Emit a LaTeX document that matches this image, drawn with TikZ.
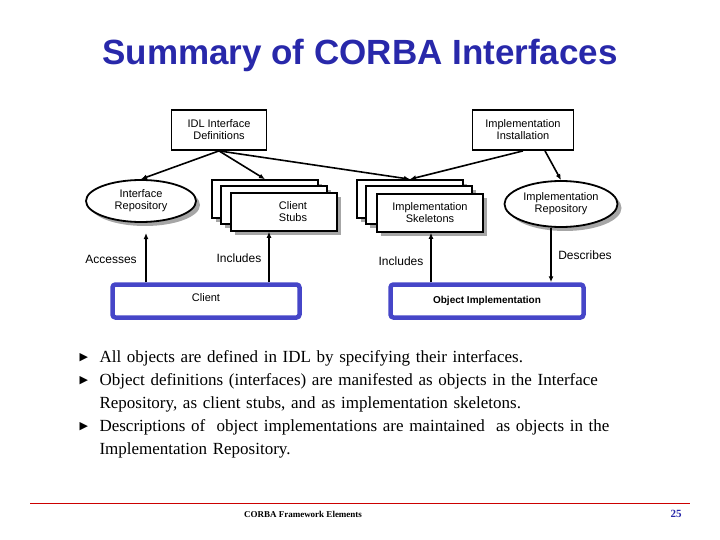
\documentclass[tikz,border=0pt]{standalone}
\usepackage{fontspec}
\setmainfont{Liberation Serif}
\setsansfont{Liberation Sans}
\newfontfamily\symfont{DejaVu Sans}
\usetikzlibrary{positioning, shapes, arrows, arrows.meta, shadows}
\definecolor{slideblue}{RGB}{40,40,170}
\definecolor{framblue}{RGB}{70,70,200}
\tikzstyle{card}=[rectangle, draw, line width=1.6pt, fill=white, minimum width=106pt, minimum height=38pt, font=\sffamily\fontsize{11}{12}\selectfont, align=center, drop shadow={shadow xshift=4pt, shadow yshift=-4pt, fill=black!35, opacity=1}]
\tikzstyle{store}=[ellipse, draw, line width=1.8pt, fill=white, minimum width=110pt, minimum height=42pt, inner sep=0pt, font=\sffamily\fontsize{11}{12}\selectfont, align=center, drop shadow={shadow xshift=4pt, shadow yshift=-4pt, fill=black!35, opacity=1}]
\tikzstyle{source}=[rectangle, draw, line width=1.8pt, fill=white, minimum width=95pt, minimum height=40pt, font=\sffamily\fontsize{11}{12}\selectfont, align=center]
\tikzstyle{party}=[rectangle, rounded corners=3pt, draw=framblue, line width=4.5pt, fill=white, minimum height=33pt, font=\sffamily\fontsize{11}{12}\selectfont]
\tikzstyle{flow}=[line width=1.6pt, -{Latex[length=6pt, width=5pt]}]
\tikzstyle{tag}=[font=\sffamily\fontsize{12}{14}\selectfont]
\begin{document}
\begin{tikzpicture}[x=1pt, y=-1pt]
                \useasboundingbox (0,0) rectangle (720,540);
                % Titre
                \node[text=slideblue, font=\sffamily\bfseries\fontsize{35}{38}\selectfont] (title) at (360,55) {Summary of CORBA Interfaces};

                % Sources
                \node[source] (idl) at (219,130) {IDL Interface\\Definitions};
                \node[source, minimum width=101pt] (install) at (523,130) {Implementation\\Installation};

                % Piles
                \node[card] (stubA) at (265,199) {};
                \node[card] (stubB) at (274,205) {};
                \node[card] (stubs) at (284,212) {\hspace*{18pt}Client\\\hspace*{18pt}Stubs};
                \node[card] (skelA) at (410,199) {};
                \node[card] (skelB) at (419,205) {};
                \node[card] (skels) at (430,213) {Implementation\\Skeletons};

                % Depots
                \node[store] (ifr) at (141,201) {Interface\\Repository};
                \node[store, minimum width=113pt, minimum height=46pt] (impr) at (561,204) {Implementation\\Repository};

                % Clients
                \node[party, minimum width=187pt] (client) at (206,301) {\raisebox{6pt}{Client}};
                \node[party, minimum width=193pt] (objimpl) at (487,301) {\bfseries\fontsize{10}{12}\selectfont Object Implementation};

                % Fleches du haut
                \draw[flow] (idl.south) -- (ifr.north);
                \draw[flow] (idl.south) -- (stubA.north);
                \draw[flow] (idl.south) -- (skelA.north);
                \draw[flow] (install.south) -- (skelA.north);
                \draw[flow] ([xshift=22pt]install.south) -- (impr.north);

                % Fleches du bas
                \draw[flow] (client.north -| 146,0) -- (146,233);
                \draw[flow] (client.north -| 269,0) -- (stubs.south -| 269,0);
                \draw[flow] (objimpl.north -| 431,0) -- (skels.south -| 431,0);
                \draw[flow] (impr.south -| 551,0) -- (objimpl.north -| 551,0);

                % Etiquettes
                \node[tag] (acc) at (111,259) {Accesses};
                \node[tag] (inc1) at (239,258) {Includes};
                \node[tag] (inc2) at (401,261) {Includes};
                \node[tag] (desc) at (585,255) {Describes};

                % Puces
                \node[anchor=north west, text width=560pt, align=left, font=\fontsize{17}{23}\selectfont] (bullets) at (76,347) {%
                  \makebox[20pt][l]{\symfont\fontsize{11}{12}\selectfont\raisebox{2pt}{▶}}All objects are defined in IDL by specifying their interfaces.\\
                  \makebox[20pt][l]{\symfont\fontsize{11}{12}\selectfont\raisebox{2pt}{▶}}Object definitions (interfaces) are manifested as objects in the Interface\\
                  \hspace*{20pt}Repository, as client stubs, and as implementation skeletons.\\
                  \makebox[20pt][l]{\symfont\fontsize{11}{12}\selectfont\raisebox{2pt}{▶}}Descriptions of\ \ object implementations are maintained\ \ as objects in the\\
                  \hspace*{20pt}Implementation Repository.};

                % Pied de page
                \coordinate (ruleL) at (30,503);
                \coordinate (ruleR) at (690,503);
                \draw[red!80!black, line width=1pt] (ruleL) -- (ruleR);
                \node[font=\bfseries\fontsize{9}{10}\selectfont] (foot) at (303,514) {CORBA Framework Elements};
                \node[text=slideblue, font=\bfseries\fontsize{11}{12}\selectfont] (page) at (676,514) {25};
            \end{tikzpicture}
\end{document}
